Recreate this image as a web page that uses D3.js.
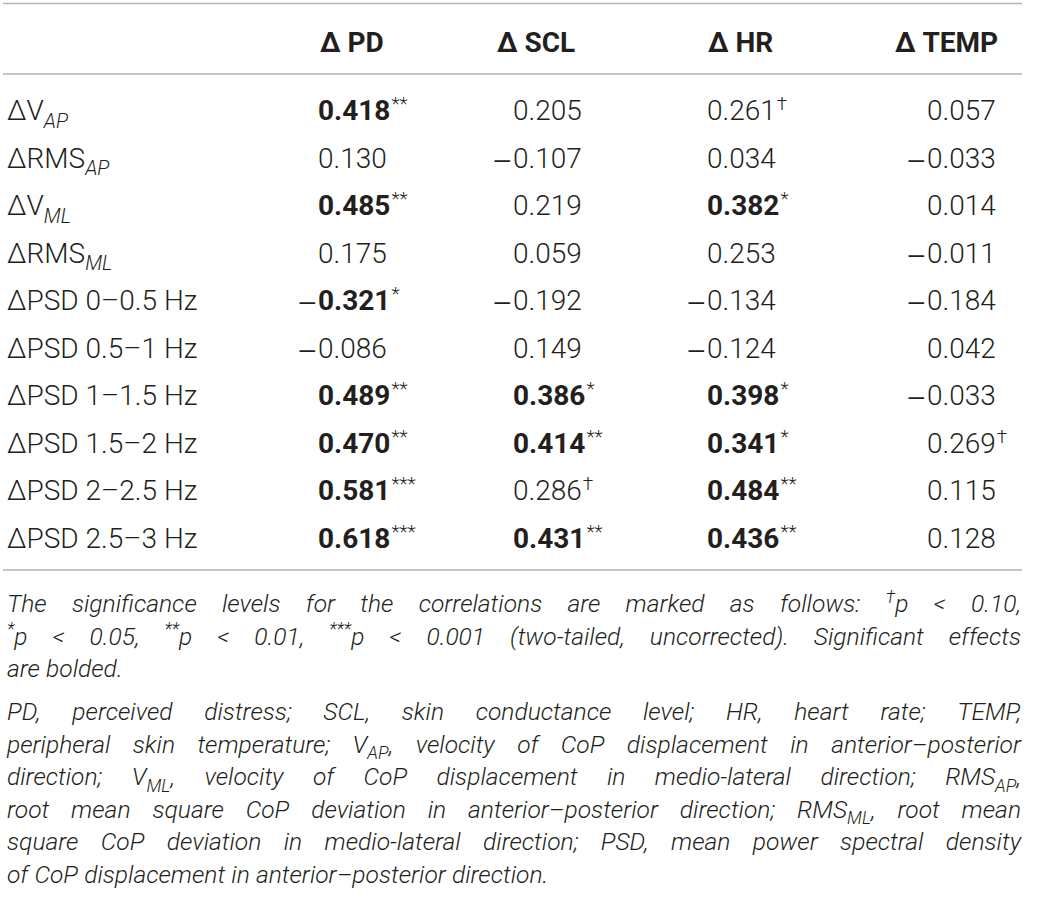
<!DOCTYPE html>
<html>
<head>
<meta charset="utf-8">
<script src="https://cdn.jsdelivr.net/npm/d3@7"></script>
<style>
body { margin: 0; background: #fff; }
svg { display: block; }
text { font-family: Roboto, "Liberation Sans", Arial, sans-serif; fill: #231f20; }
</style>
</head>
<body>
<div id="chart"></div>
<script>
// table content
var columns = ["Δ PD", "Δ SCL", "Δ HR", "Δ TEMP"];
var rowLabels = ["ΔV_{AP}", "ΔRMS_{AP}", "ΔV_{ML}", "ΔRMS_{ML}", "ΔPSD 0–0.5 Hz",
    "ΔPSD 0.5–1 Hz", "ΔPSD 1–1.5 Hz", "ΔPSD 1.5–2 Hz", "ΔPSD 2–2.5 Hz", "ΔPSD 2.5–3 Hz"];

var pdValues   = [0.418, 0.130, 0.485, 0.175, -0.321, -0.086, 0.489, 0.470, 0.581, 0.618];
var pdSig      = ["**", "", "**", "", "*", "", "**", "**", "***", "***"];
var sclValues  = [0.205, -0.107, 0.219, 0.059, -0.192, 0.149, 0.386, 0.414, 0.286, 0.431];
var sclSig     = ["", "", "", "", "", "", "*", "**", "†", "**"];
var hrValues   = [0.261, 0.034, 0.382, 0.253, -0.134, -0.124, 0.398, 0.341, 0.484, 0.436];
var hrSig      = ["†", "", "*", "", "", "", "*", "*", "**", "**"];
var tempValues = [0.057, -0.033, 0.014, -0.011, -0.184, 0.042, -0.033, 0.269, 0.115, 0.128];
var tempSig    = ["", "", "", "", "", "", "", "†", "", ""];

var noteSig = [
    "The significance levels for the correlations are marked as follows: ^{†}p < 0.10,",
    "^{*}p < 0.05, ^{**}p < 0.01, ^{***}p < 0.001 (two-tailed, uncorrected). Significant effects",
    "are bolded."
];
var noteAbbr = [
    "PD, perceived distress; SCL, skin conductance level; HR, heart rate; TEMP,",
    "peripheral skin temperature; V_{AP}, velocity of CoP displacement in anterior–posterior",
    "direction; V_{ML}, velocity of CoP displacement in medio-lateral direction; RMS_{AP},",
    "root mean square CoP deviation in anterior–posterior direction; RMS_{ML}, root mean",
    "square CoP deviation in medio-lateral direction; PSD, mean power spectral density",
    "of CoP displacement in anterior–posterior direction."
];

var series = [
    {values: pdValues, sig: pdSig},
    {values: sclValues, sig: sclSig},
    {values: hrValues, sig: hrSig},
    {values: tempValues, sig: tempSig}
];

var width = 1037, height = 922,
    left = 7, right = 1021,
    fontSize = 28, noteSize = 24.6;

var svg = d3.select("#chart").append("svg")
    .attr("width", width)
    .attr("height", height);

// column positions (digit start) and header starts
var x = d3.scaleOrdinal().domain(columns).range([318, 513, 707, 927]);
var xHead = d3.scaleOrdinal().domain(columns).range([320, 497, 708, 895]);
var y = d3.scalePoint().domain(d3.range(rowLabels.length)).range([120, 547.5]);
var fmt = d3.format(".3f");

// rules
svg.selectAll("line.rule")
    .data([3.5, 74, 570])
    .enter().append("line")
    .attr("class", "rule")
    .attr("x1", 3).attr("x2", 1022)
    .attr("y1", function(d) { return d; })
    .attr("y2", function(d) { return d; })
    .style("stroke", "#b3b3b3")
    .style("stroke-width", 1.5);

// header
svg.selectAll("text.head")
    .data(columns)
    .enter().append("text")
    .attr("class", "head")
    .attr("x", function(d) { return xHead(d); })
    .attr("y", 52)
    .style("font-size", fontSize + "px")
    .style("font-weight", 700)
    .text(function(d) { return d; });

// splits "ΔV_{AP}" / "^{†}p" into plain, sub and sup pieces
function parse(s) {
    var parts = [], re = /([\^_])\{([^}]*)\}/g, last = 0, m;
    while ((m = re.exec(s))) {
        if (m.index > last) parts.push({t: s.slice(last, m.index), k: "n"});
        parts.push({t: m[2], k: m[1] == "^" ? "sup" : "sub"});
        last = re.lastIndex;
    }
    if (last < s.length) parts.push({t: s.slice(last), k: "n"});
    return parts;
}

function fill(textSel, parts, size, italicSub) {
    var shift = 0;
    parts.forEach(function(p) {
        var target = p.k == "sup" ? -0.38 * size : p.k == "sub" ? 0.28 * size : 0;
        var ts = textSel.append("tspan")
            .attr("dy", target - shift)
            .text(p.t);
        if (p.k != "n") ts.style("font-size", (size * 0.72) + "px");
        if (p.k == "sub" && italicSub) ts.style("font-style", "italic");
        shift = target;
    });
}

// row labels
rowLabels.forEach(function(lab, i) {
    var t = svg.append("text")
        .attr("x", left)
        .attr("y", y(i))
        .style("font-size", fontSize + "px")
        .style("font-weight", 300);
    fill(t, parse(lab), fontSize, true);
});

// cells
series.forEach(function(s, c) {
    var col = columns[c];
    var g = svg.append("g").attr("class", "col");
    s.values.forEach(function(v, i) {
        if (v < 0) {
            // long thin minus, hanging left of the digits
            g.append("text")
                .attr("x", x(col) - 3)
                .attr("y", y(i))
                .attr("text-anchor", "end")
                .style("font-family", "'Liberation Sans', Arial, sans-serif")
                .style("font-size", fontSize + "px")
                .style("font-weight", 400)
                .text("–");
        }
        var bold = s.sig[i].indexOf("*") >= 0;
        var t = g.append("text")
            .attr("x", x(col))
            .attr("y", y(i))
            .style("font-size", fontSize + "px");
        t.append("tspan")
            .style("font-weight", bold ? 700 : 300)
            .text(fmt(Math.abs(v)));
        if (s.sig[i]) {
            t.append("tspan")
                .attr("dx", 1)
                .attr("dy", -0.34 * fontSize)
                .style("font-size", "19px")
                .style("font-weight", 300)
                .text(s.sig[i]);
        }
    });
});

// footnotes, justified like the source
function paragraph(lines, y0, lineH) {
    lines.forEach(function(line, li) {
        var yy = y0 + li * lineH;
        var words = line.split(" ");
        var nodes = words.map(function(w) {
            var t = svg.append("text")
                .attr("y", yy)
                .style("font-size", noteSize + "px")
                .style("font-style", "italic")
                .style("font-weight", 300);
            fill(t, parse(w), noteSize, false);
            return t;
        });
        var widths = nodes.map(function(n) { return n.node().getComputedTextLength(); });
        var total = d3.sum(widths);
        var justify = li < lines.length - 1;
        var gap = justify ? (right - left - total) / (words.length - 1) : noteSize * 0.25;
        var cx = left;
        nodes.forEach(function(n, k) {
            n.attr("x", cx);
            cx += widths[k] + gap;
        });
    });
}

paragraph(noteSig, 612, 32.5);
paragraph(noteAbbr, 720, 32.5);
</script>
</body>
</html>
